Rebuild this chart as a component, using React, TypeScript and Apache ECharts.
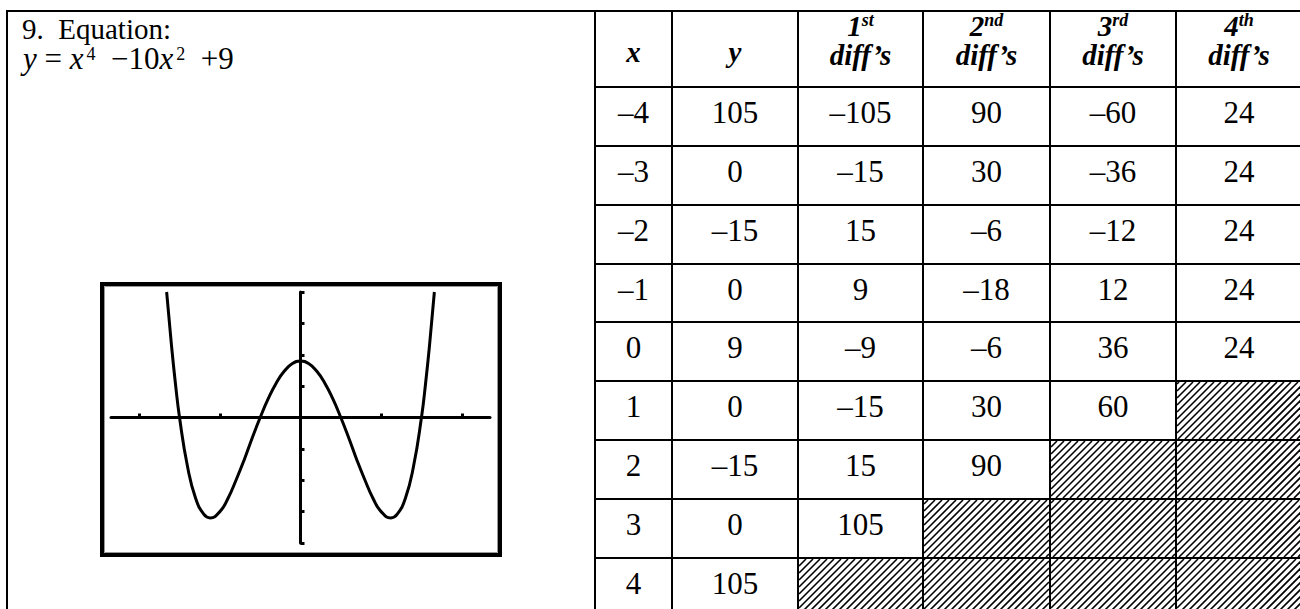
import React, { useEffect, useRef } from 'react';
import * as echarts from 'echarts';

// ---- data ----
const xValues = [-4, -3, -2, -1, 0, 1, 2, 3, 4];
const yValues = [105, 0, -15, 0, 9, 0, -15, 0, 105];
const diff1 = [-105, -15, 15, 9, -9, -15, 15, 105];
const diff2 = [90, 30, -6, -18, -6, 30, 90];
const diff3 = [-60, -36, -12, 12, 36, 60];
const diff4 = [24, 24, 24, 24, 24];
const headerNum = ['', '', '1', '2', '3', '4'];
const headerSup = ['', '', 'st', 'nd', 'rd', 'th'];
const headerMain = ['x', 'y', "diff\u2019s", "diff\u2019s", "diff\u2019s", "diff\u2019s"];

// points
const graphX = [-3.32, -3.2, -3.1, -3.0, -2.8, -2.6, -2.4, -2.24, -2.0, -1.8, -1.6, -1.4, -1.2, -1.0, -0.8, -0.6, -0.4, -0.2, 0,
  0.2, 0.4, 0.6, 0.8, 1.0, 1.2, 1.4, 1.6, 1.8, 2.0, 2.24, 2.4, 2.6, 2.8, 3.0, 3.1, 3.2, 3.32];
const graphY = [20, 11.5, 5.3, 0, -7.9, -12.9, -15.4, -16, -15, -12.9, -10, -6.8, -3.3, 0, 3, 5.5, 7.4, 8.6, 9,
  8.6, 7.4, 5.5, 3, 0, -3.3, -6.8, -10, -12.9, -15, -16, -15.4, -12.9, -7.9, 0, 5.3, 11.5, 20];
const xTicks = [-4, -2, 2, 4];
const yTicks = [-20, -15, -10, -5, 5, 10, 15, 20];

// ---- layout ----
const SERIF = "Liberation Serif";
const colX = [595, 672, 798, 923, 1050, 1176, 1302];
const rowY = [11, 87, 146, 205, 264, 322, 381, 440, 499, 558, 617];
const LINE_W = 2;

const fmt = (v: number) => (v < 0 ? '\u2013' + Math.abs(v) : String(v));

function buildGraphics() {
  const els: any[] = [];
  const columns = [xValues, yValues, diff1, diff2, diff3, diff4];

  // hatching
  const step = 7;
  columns.forEach((col, j) => {
    for (let r = col.length; r < 9; r++) {
      const x0 = colX[j] + 1, x1 = colX[j + 1] - 1;
      const y0 = rowY[r + 1] + 1, y1 = rowY[r + 2] - 1;
      const cStart = Math.ceil((x0 + y0) / step) * step;
      for (let c = cStart; c <= x1 + y1; c += step) {
        const xa = Math.max(x0, c - y1);
        const xb = Math.min(x1, c - y0);
        if (xb - xa > 0.5) {
          els.push({
            type: 'line', silent: true,
            shape: { x1: xa, y1: c - xa, x2: xb, y2: c - xb },
            style: { stroke: '#000', lineWidth: 1.6 },
          });
        }
      }
    }
  });

  // table lines
  const hl = (x1: number, x2: number, y: number) => els.push({
    type: 'line', shape: { x1, y1: y, x2, y2: y }, style: { stroke: '#000', lineWidth: LINE_W },
  });
  const vl = (x: number, y1: number, y2: number) => els.push({
    type: 'line', shape: { x1: x, y1, x2: x, y2 }, style: { stroke: '#000', lineWidth: LINE_W },
  });
  hl(6, 1300, rowY[0]);
  for (let r = 1; r < rowY.length - 1; r++) hl(colX[0], 1300, rowY[r]);
  vl(7, rowY[0] - 1, 612);
  colX.forEach((x) => vl(x, rowY[0] - 1, 612));

  // header
  headerMain.forEach((t, j) => {
    const cx = (colX[j] + colX[j + 1]) / 2;
    els.push({
      type: 'text', x: cx, y: headerNum[j] ? 55 : 52,
      style: { text: t, fontFamily: SERIF, fontSize: 29, fontWeight: 'bold', fontStyle: 'italic', fill: '#000', align: 'center', verticalAlign: 'middle' },
    });
    if (headerNum[j]) {
      els.push({
        type: 'text', x: cx, y: 26,
        style: {
          text: `{a|${headerNum[j]}}{b|${headerSup[j]}}`,
          align: 'center', verticalAlign: 'middle',
          rich: {
            a: { fontFamily: SERIF, fontSize: 29, fontWeight: 'bold', fontStyle: 'italic', fill: '#000', lineHeight: 30 },
            b: { fontFamily: SERIF, fontSize: 18, fontWeight: 'bold', fontStyle: 'italic', fill: '#000', lineHeight: 18, verticalAlign: 'top' },
          },
        },
      });
    }
  });

  // body values
  columns.forEach((col, j) => {
    const cx = (colX[j] + colX[j + 1]) / 2;
    col.forEach((v, r) => {
      els.push({
        type: 'text', x: cx, y: rowY[r + 1] + 25,
        style: { text: fmt(v), fontFamily: SERIF, fontSize: 31, fill: '#000', align: 'center', verticalAlign: 'middle' },
      });
    });
  });

  // left panel text
  els.push({
    type: 'text', x: 22, y: 29,
    style: { text: '9.  Equation:', fontFamily: SERIF, fontSize: 29, lineHeight: 24, fill: '#000', align: 'left', verticalAlign: 'middle' },
  });
  els.push({
    type: 'text', x: 23, y: 58,
    style: {
      text: '{i|y} = {i|x}{s|4}\u2002\u221210{i|x}{s|2}\u2002+9',
      fontFamily: SERIF, fontSize: 31, fill: '#000', lineHeight: 26,
      align: 'left', verticalAlign: 'middle',
      rich: {
        i: { fontFamily: SERIF, fontSize: 31, fontStyle: 'italic', fill: '#000', lineHeight: 26 },
        s: { fontFamily: SERIF, fontSize: 18, fill: '#000', lineHeight: 12, verticalAlign: 'top', padding: [0, 0, 0, 3] },
      },
    },
  });

  // calculator screen frame
  els.push({
    type: 'rect', shape: { x: 102, y: 284, width: 398, height: 271 },
    style: { fill: 'none', stroke: '#000', lineWidth: 4 },
  });
  els.push({
    type: 'rect', shape: { x: 104.5, y: 286.5, width: 393, height: 266 },
    style: { fill: 'none', stroke: '#999', lineWidth: 1 },
  });
  return els;
}

export default function App() {
  const ref = useRef<HTMLDivElement>(null);
  useEffect(() => {
    if (!ref.current) return;
    const chart = echarts.init(ref.current, undefined, { renderer: 'svg' });
    chart.setOption({
      animation: false,
      backgroundColor: '#fff',
      grid: { left: 111, top: 292, width: 379, height: 251 },
      xAxis: {
        type: 'value', min: -4.7, max: 4.7,
        axisLine: { onZero: true, lineStyle: { color: '#000', width: 3 } },
        axisTick: { show: true, inside: true, length: 4, customValues: xTicks, lineStyle: { color: '#000', width: 3 } },
        axisLabel: { show: false },
        splitLine: { show: false },
      },
      yAxis: {
        type: 'value', min: -20, max: 20,
        axisLine: { onZero: true, lineStyle: { color: '#000', width: 3 } },
        axisTick: { show: true, inside: true, length: 4, customValues: yTicks, lineStyle: { color: '#000', width: 3 } },
        axisLabel: { show: false },
        splitLine: { show: false },
      },
      series: [{
        type: 'line',
        data: graphX.map((x, i) => [x, graphY[i]]),
        smooth: true,
        symbol: 'none',
        lineStyle: { color: '#000', width: 3 },
      }],
      graphic: { elements: buildGraphics() },
    });
    return () => chart.dispose();
  }, []);
  return <div ref={ref} style={{ position: 'absolute', left: 0, top: 0, width: 1300, height: 609, background: '#fff' }} />;
}
